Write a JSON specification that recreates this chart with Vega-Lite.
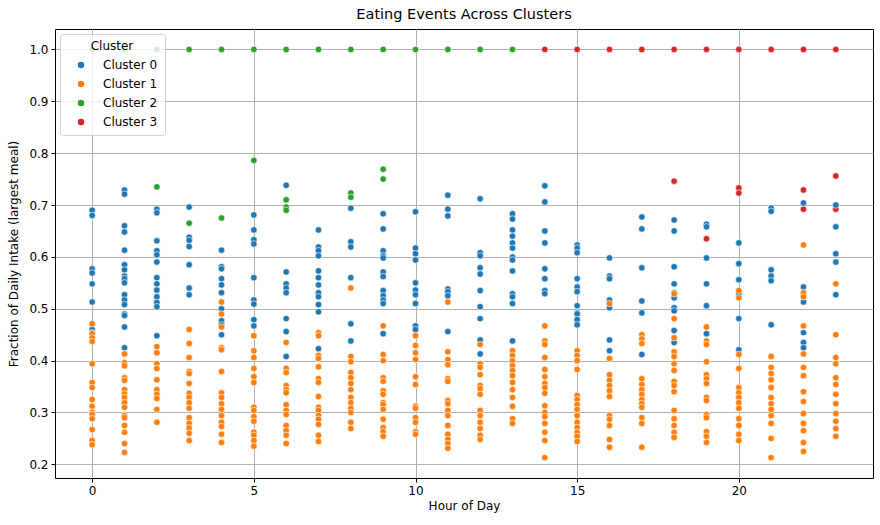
{
  "$schema": "https://vega.github.io/schema/vega-lite/v6.json",
  "width": 818,
  "height": 449,
  "autosize": {"type": "none"},
  "padding": {"left": 55, "top": 29, "right": 7, "bottom": 47},
  "title": {"text": "Eating Events Across Clusters", "fontSize": 14.5, "fontWeight": "normal", "color": "black", "offset": 7},
  "data": {
    "values": [
      {"hour": 0, "frac": 1.0, "cluster": "Cluster 2"},
      {"hour": 0, "frac": 0.69, "cluster": "Cluster 0"}, {"hour": 0, "frac": 0.68, "cluster": "Cluster 0"}, {"hour": 0, "frac": 0.577, "cluster": "Cluster 0"}, {"hour": 0, "frac": 0.569, "cluster": "Cluster 0"}, {"hour": 0, "frac": 0.548, "cluster": "Cluster 0"}, {"hour": 0, "frac": 0.513, "cluster": "Cluster 0"}, {"hour": 0, "frac": 0.46, "cluster": "Cluster 0"}, {"hour": 0, "frac": 0.454, "cluster": "Cluster 0"},
      {"hour": 0, "frac": 0.471, "cluster": "Cluster 1"}, {"hour": 0, "frac": 0.452, "cluster": "Cluster 1"}, {"hour": 0, "frac": 0.444, "cluster": "Cluster 1"}, {"hour": 0, "frac": 0.437, "cluster": "Cluster 1"}, {"hour": 0, "frac": 0.394, "cluster": "Cluster 1"}, {"hour": 0, "frac": 0.358, "cluster": "Cluster 1"}, {"hour": 0, "frac": 0.348, "cluster": "Cluster 1"}, {"hour": 0, "frac": 0.325, "cluster": "Cluster 1"}, {"hour": 0, "frac": 0.312, "cluster": "Cluster 1"}, {"hour": 0, "frac": 0.3, "cluster": "Cluster 1"}, {"hour": 0, "frac": 0.296, "cluster": "Cluster 1"}, {"hour": 0, "frac": 0.288, "cluster": "Cluster 1"}, {"hour": 0, "frac": 0.267, "cluster": "Cluster 1"}, {"hour": 0, "frac": 0.246, "cluster": "Cluster 1"}, {"hour": 0, "frac": 0.238, "cluster": "Cluster 1"},

      {"hour": 1, "frac": 1.0, "cluster": "Cluster 2"},
      {"hour": 1, "frac": 0.729, "cluster": "Cluster 0"}, {"hour": 1, "frac": 0.721, "cluster": "Cluster 0"}, {"hour": 1, "frac": 0.66, "cluster": "Cluster 0"}, {"hour": 1, "frac": 0.648, "cluster": "Cluster 0"}, {"hour": 1, "frac": 0.613, "cluster": "Cluster 0"}, {"hour": 1, "frac": 0.585, "cluster": "Cluster 0"}, {"hour": 1, "frac": 0.575, "cluster": "Cluster 0"}, {"hour": 1, "frac": 0.563, "cluster": "Cluster 0"}, {"hour": 1, "frac": 0.558, "cluster": "Cluster 0"}, {"hour": 1, "frac": 0.55, "cluster": "Cluster 0"}, {"hour": 1, "frac": 0.527, "cluster": "Cluster 0"}, {"hour": 1, "frac": 0.517, "cluster": "Cluster 0"}, {"hour": 1, "frac": 0.508, "cluster": "Cluster 0"}, {"hour": 1, "frac": 0.49, "cluster": "Cluster 0"}, {"hour": 1, "frac": 0.487, "cluster": "Cluster 0"}, {"hour": 1, "frac": 0.465, "cluster": "Cluster 0"}, {"hour": 1, "frac": 0.425, "cluster": "Cluster 0"},
      {"hour": 1, "frac": 0.413, "cluster": "Cluster 1"}, {"hour": 1, "frac": 0.396, "cluster": "Cluster 1"}, {"hour": 1, "frac": 0.39, "cluster": "Cluster 1"}, {"hour": 1, "frac": 0.367, "cluster": "Cluster 1"}, {"hour": 1, "frac": 0.362, "cluster": "Cluster 1"}, {"hour": 1, "frac": 0.344, "cluster": "Cluster 1"}, {"hour": 1, "frac": 0.336, "cluster": "Cluster 1"}, {"hour": 1, "frac": 0.329, "cluster": "Cluster 1"}, {"hour": 1, "frac": 0.319, "cluster": "Cluster 1"}, {"hour": 1, "frac": 0.31, "cluster": "Cluster 1"}, {"hour": 1, "frac": 0.294, "cluster": "Cluster 1"}, {"hour": 1, "frac": 0.29, "cluster": "Cluster 1"}, {"hour": 1, "frac": 0.275, "cluster": "Cluster 1"}, {"hour": 1, "frac": 0.262, "cluster": "Cluster 1"}, {"hour": 1, "frac": 0.24, "cluster": "Cluster 1"}, {"hour": 1, "frac": 0.223, "cluster": "Cluster 1"},

      {"hour": 2, "frac": 1.0, "cluster": "Cluster 2"}, {"hour": 2, "frac": 0.735, "cluster": "Cluster 2"},
      {"hour": 2, "frac": 0.692, "cluster": "Cluster 0"}, {"hour": 2, "frac": 0.685, "cluster": "Cluster 0"}, {"hour": 2, "frac": 0.631, "cluster": "Cluster 0"}, {"hour": 2, "frac": 0.612, "cluster": "Cluster 0"}, {"hour": 2, "frac": 0.604, "cluster": "Cluster 0"}, {"hour": 2, "frac": 0.59, "cluster": "Cluster 0"}, {"hour": 2, "frac": 0.56, "cluster": "Cluster 0"}, {"hour": 2, "frac": 0.548, "cluster": "Cluster 0"}, {"hour": 2, "frac": 0.536, "cluster": "Cluster 0"}, {"hour": 2, "frac": 0.523, "cluster": "Cluster 0"}, {"hour": 2, "frac": 0.512, "cluster": "Cluster 0"}, {"hour": 2, "frac": 0.504, "cluster": "Cluster 0"}, {"hour": 2, "frac": 0.448, "cluster": "Cluster 0"},
      {"hour": 2, "frac": 0.427, "cluster": "Cluster 1"}, {"hour": 2, "frac": 0.415, "cluster": "Cluster 1"}, {"hour": 2, "frac": 0.394, "cluster": "Cluster 1"}, {"hour": 2, "frac": 0.385, "cluster": "Cluster 1"}, {"hour": 2, "frac": 0.363, "cluster": "Cluster 1"}, {"hour": 2, "frac": 0.344, "cluster": "Cluster 1"}, {"hour": 2, "frac": 0.335, "cluster": "Cluster 1"}, {"hour": 2, "frac": 0.327, "cluster": "Cluster 1"}, {"hour": 2, "frac": 0.306, "cluster": "Cluster 1"}, {"hour": 2, "frac": 0.281, "cluster": "Cluster 1"},

      {"hour": 3, "frac": 1.0, "cluster": "Cluster 2"}, {"hour": 3, "frac": 0.665, "cluster": "Cluster 2"},
      {"hour": 3, "frac": 0.696, "cluster": "Cluster 0"}, {"hour": 3, "frac": 0.638, "cluster": "Cluster 0"}, {"hour": 3, "frac": 0.632, "cluster": "Cluster 0"}, {"hour": 3, "frac": 0.62, "cluster": "Cluster 0"}, {"hour": 3, "frac": 0.585, "cluster": "Cluster 0"}, {"hour": 3, "frac": 0.54, "cluster": "Cluster 0"}, {"hour": 3, "frac": 0.527, "cluster": "Cluster 0"},
      {"hour": 3, "frac": 0.46, "cluster": "Cluster 1"}, {"hour": 3, "frac": 0.433, "cluster": "Cluster 1"}, {"hour": 3, "frac": 0.406, "cluster": "Cluster 1"}, {"hour": 3, "frac": 0.379, "cluster": "Cluster 1"}, {"hour": 3, "frac": 0.375, "cluster": "Cluster 1"}, {"hour": 3, "frac": 0.356, "cluster": "Cluster 1"}, {"hour": 3, "frac": 0.337, "cluster": "Cluster 1"}, {"hour": 3, "frac": 0.329, "cluster": "Cluster 1"}, {"hour": 3, "frac": 0.319, "cluster": "Cluster 1"}, {"hour": 3, "frac": 0.308, "cluster": "Cluster 1"}, {"hour": 3, "frac": 0.29, "cluster": "Cluster 1"}, {"hour": 3, "frac": 0.279, "cluster": "Cluster 1"}, {"hour": 3, "frac": 0.27, "cluster": "Cluster 1"}, {"hour": 3, "frac": 0.26, "cluster": "Cluster 1"}, {"hour": 3, "frac": 0.246, "cluster": "Cluster 1"},

      {"hour": 4, "frac": 1.0, "cluster": "Cluster 2"}, {"hour": 4, "frac": 0.675, "cluster": "Cluster 2"},
      {"hour": 4, "frac": 0.613, "cluster": "Cluster 0"}, {"hour": 4, "frac": 0.581, "cluster": "Cluster 0"}, {"hour": 4, "frac": 0.577, "cluster": "Cluster 0"}, {"hour": 4, "frac": 0.558, "cluster": "Cluster 0"}, {"hour": 4, "frac": 0.546, "cluster": "Cluster 0"}, {"hour": 4, "frac": 0.531, "cluster": "Cluster 0"}, {"hour": 4, "frac": 0.5, "cluster": "Cluster 0"}, {"hour": 4, "frac": 0.477, "cluster": "Cluster 0"}, {"hour": 4, "frac": 0.469, "cluster": "Cluster 0"}, {"hour": 4, "frac": 0.45, "cluster": "Cluster 0"},
      {"hour": 4, "frac": 0.513, "cluster": "Cluster 1"}, {"hour": 4, "frac": 0.49, "cluster": "Cluster 1"}, {"hour": 4, "frac": 0.465, "cluster": "Cluster 1"}, {"hour": 4, "frac": 0.425, "cluster": "Cluster 1"}, {"hour": 4, "frac": 0.421, "cluster": "Cluster 1"}, {"hour": 4, "frac": 0.379, "cluster": "Cluster 1"}, {"hour": 4, "frac": 0.338, "cluster": "Cluster 1"}, {"hour": 4, "frac": 0.329, "cluster": "Cluster 1"}, {"hour": 4, "frac": 0.317, "cluster": "Cluster 1"}, {"hour": 4, "frac": 0.306, "cluster": "Cluster 1"}, {"hour": 4, "frac": 0.294, "cluster": "Cluster 1"}, {"hour": 4, "frac": 0.281, "cluster": "Cluster 1"}, {"hour": 4, "frac": 0.273, "cluster": "Cluster 1"}, {"hour": 4, "frac": 0.258, "cluster": "Cluster 1"}, {"hour": 4, "frac": 0.242, "cluster": "Cluster 1"},

      {"hour": 5, "frac": 1.0, "cluster": "Cluster 2"}, {"hour": 5, "frac": 0.786, "cluster": "Cluster 2"},
      {"hour": 5, "frac": 0.681, "cluster": "Cluster 0"}, {"hour": 5, "frac": 0.652, "cluster": "Cluster 0"}, {"hour": 5, "frac": 0.633, "cluster": "Cluster 0"}, {"hour": 5, "frac": 0.625, "cluster": "Cluster 0"}, {"hour": 5, "frac": 0.56, "cluster": "Cluster 0"}, {"hour": 5, "frac": 0.517, "cluster": "Cluster 0"}, {"hour": 5, "frac": 0.509, "cluster": "Cluster 0"}, {"hour": 5, "frac": 0.479, "cluster": "Cluster 0"}, {"hour": 5, "frac": 0.467, "cluster": "Cluster 0"},
      {"hour": 5, "frac": 0.448, "cluster": "Cluster 1"}, {"hour": 5, "frac": 0.419, "cluster": "Cluster 1"}, {"hour": 5, "frac": 0.406, "cluster": "Cluster 1"}, {"hour": 5, "frac": 0.385, "cluster": "Cluster 1"}, {"hour": 5, "frac": 0.369, "cluster": "Cluster 1"}, {"hour": 5, "frac": 0.358, "cluster": "Cluster 1"}, {"hour": 5, "frac": 0.31, "cluster": "Cluster 1"}, {"hour": 5, "frac": 0.304, "cluster": "Cluster 1"}, {"hour": 5, "frac": 0.292, "cluster": "Cluster 1"}, {"hour": 5, "frac": 0.283, "cluster": "Cluster 1"}, {"hour": 5, "frac": 0.262, "cluster": "Cluster 1"}, {"hour": 5, "frac": 0.256, "cluster": "Cluster 1"}, {"hour": 5, "frac": 0.246, "cluster": "Cluster 1"}, {"hour": 5, "frac": 0.235, "cluster": "Cluster 1"},

      {"hour": 6, "frac": 1.0, "cluster": "Cluster 2"}, {"hour": 6, "frac": 0.71, "cluster": "Cluster 2"}, {"hour": 6, "frac": 0.696, "cluster": "Cluster 2"}, {"hour": 6, "frac": 0.69, "cluster": "Cluster 2"},
      {"hour": 6, "frac": 0.738, "cluster": "Cluster 0"}, {"hour": 6, "frac": 0.571, "cluster": "Cluster 0"}, {"hour": 6, "frac": 0.548, "cluster": "Cluster 0"}, {"hour": 6, "frac": 0.54, "cluster": "Cluster 0"}, {"hour": 6, "frac": 0.531, "cluster": "Cluster 0"}, {"hour": 6, "frac": 0.481, "cluster": "Cluster 0"}, {"hour": 6, "frac": 0.456, "cluster": "Cluster 0"}, {"hour": 6, "frac": 0.408, "cluster": "Cluster 0"},
      {"hour": 6, "frac": 0.435, "cluster": "Cluster 1"}, {"hour": 6, "frac": 0.385, "cluster": "Cluster 1"}, {"hour": 6, "frac": 0.377, "cluster": "Cluster 1"}, {"hour": 6, "frac": 0.352, "cluster": "Cluster 1"}, {"hour": 6, "frac": 0.344, "cluster": "Cluster 1"}, {"hour": 6, "frac": 0.338, "cluster": "Cluster 1"}, {"hour": 6, "frac": 0.315, "cluster": "Cluster 1"}, {"hour": 6, "frac": 0.304, "cluster": "Cluster 1"}, {"hour": 6, "frac": 0.296, "cluster": "Cluster 1"}, {"hour": 6, "frac": 0.275, "cluster": "Cluster 1"}, {"hour": 6, "frac": 0.265, "cluster": "Cluster 1"}, {"hour": 6, "frac": 0.256, "cluster": "Cluster 1"}, {"hour": 6, "frac": 0.24, "cluster": "Cluster 1"},

      {"hour": 7, "frac": 1.0, "cluster": "Cluster 2"},
      {"hour": 7, "frac": 0.652, "cluster": "Cluster 0"}, {"hour": 7, "frac": 0.619, "cluster": "Cluster 0"}, {"hour": 7, "frac": 0.612, "cluster": "Cluster 0"}, {"hour": 7, "frac": 0.602, "cluster": "Cluster 0"}, {"hour": 7, "frac": 0.573, "cluster": "Cluster 0"}, {"hour": 7, "frac": 0.56, "cluster": "Cluster 0"}, {"hour": 7, "frac": 0.546, "cluster": "Cluster 0"}, {"hour": 7, "frac": 0.531, "cluster": "Cluster 0"}, {"hour": 7, "frac": 0.523, "cluster": "Cluster 0"}, {"hour": 7, "frac": 0.508, "cluster": "Cluster 0"}, {"hour": 7, "frac": 0.494, "cluster": "Cluster 0"}, {"hour": 7, "frac": 0.423, "cluster": "Cluster 0"},
      {"hour": 7, "frac": 0.454, "cluster": "Cluster 1"}, {"hour": 7, "frac": 0.448, "cluster": "Cluster 1"}, {"hour": 7, "frac": 0.41, "cluster": "Cluster 1"}, {"hour": 7, "frac": 0.404, "cluster": "Cluster 1"}, {"hour": 7, "frac": 0.388, "cluster": "Cluster 1"}, {"hour": 7, "frac": 0.365, "cluster": "Cluster 1"}, {"hour": 7, "frac": 0.358, "cluster": "Cluster 1"}, {"hour": 7, "frac": 0.331, "cluster": "Cluster 1"}, {"hour": 7, "frac": 0.31, "cluster": "Cluster 1"}, {"hour": 7, "frac": 0.304, "cluster": "Cluster 1"}, {"hour": 7, "frac": 0.294, "cluster": "Cluster 1"}, {"hour": 7, "frac": 0.287, "cluster": "Cluster 1"}, {"hour": 7, "frac": 0.277, "cluster": "Cluster 1"}, {"hour": 7, "frac": 0.256, "cluster": "Cluster 1"}, {"hour": 7, "frac": 0.244, "cluster": "Cluster 1"},

      {"hour": 8, "frac": 1.0, "cluster": "Cluster 2"}, {"hour": 8, "frac": 0.723, "cluster": "Cluster 2"}, {"hour": 8, "frac": 0.715, "cluster": "Cluster 2"},
      {"hour": 8, "frac": 0.694, "cluster": "Cluster 0"}, {"hour": 8, "frac": 0.629, "cluster": "Cluster 0"}, {"hour": 8, "frac": 0.619, "cluster": "Cluster 0"}, {"hour": 8, "frac": 0.56, "cluster": "Cluster 0"}, {"hour": 8, "frac": 0.471, "cluster": "Cluster 0"}, {"hour": 8, "frac": 0.438, "cluster": "Cluster 0"},
      {"hour": 8, "frac": 0.54, "cluster": "Cluster 1"}, {"hour": 8, "frac": 0.408, "cluster": "Cluster 1"}, {"hour": 8, "frac": 0.398, "cluster": "Cluster 1"}, {"hour": 8, "frac": 0.377, "cluster": "Cluster 1"}, {"hour": 8, "frac": 0.367, "cluster": "Cluster 1"}, {"hour": 8, "frac": 0.356, "cluster": "Cluster 1"}, {"hour": 8, "frac": 0.344, "cluster": "Cluster 1"}, {"hour": 8, "frac": 0.329, "cluster": "Cluster 1"}, {"hour": 8, "frac": 0.319, "cluster": "Cluster 1"}, {"hour": 8, "frac": 0.308, "cluster": "Cluster 1"}, {"hour": 8, "frac": 0.3, "cluster": "Cluster 1"}, {"hour": 8, "frac": 0.281, "cluster": "Cluster 1"}, {"hour": 8, "frac": 0.269, "cluster": "Cluster 1"},

      {"hour": 9, "frac": 1.0, "cluster": "Cluster 2"}, {"hour": 9, "frac": 0.769, "cluster": "Cluster 2"}, {"hour": 9, "frac": 0.75, "cluster": "Cluster 2"},
      {"hour": 9, "frac": 0.683, "cluster": "Cluster 0"}, {"hour": 9, "frac": 0.654, "cluster": "Cluster 0"}, {"hour": 9, "frac": 0.612, "cluster": "Cluster 0"}, {"hour": 9, "frac": 0.602, "cluster": "Cluster 0"}, {"hour": 9, "frac": 0.598, "cluster": "Cluster 0"}, {"hour": 9, "frac": 0.571, "cluster": "Cluster 0"}, {"hour": 9, "frac": 0.562, "cluster": "Cluster 0"}, {"hour": 9, "frac": 0.535, "cluster": "Cluster 0"}, {"hour": 9, "frac": 0.525, "cluster": "Cluster 0"}, {"hour": 9, "frac": 0.517, "cluster": "Cluster 0"}, {"hour": 9, "frac": 0.51, "cluster": "Cluster 0"}, {"hour": 9, "frac": 0.452, "cluster": "Cluster 0"},
      {"hour": 9, "frac": 0.467, "cluster": "Cluster 1"}, {"hour": 9, "frac": 0.412, "cluster": "Cluster 1"}, {"hour": 9, "frac": 0.4, "cluster": "Cluster 1"}, {"hour": 9, "frac": 0.367, "cluster": "Cluster 1"}, {"hour": 9, "frac": 0.36, "cluster": "Cluster 1"}, {"hour": 9, "frac": 0.342, "cluster": "Cluster 1"}, {"hour": 9, "frac": 0.335, "cluster": "Cluster 1"}, {"hour": 9, "frac": 0.319, "cluster": "Cluster 1"}, {"hour": 9, "frac": 0.315, "cluster": "Cluster 1"}, {"hour": 9, "frac": 0.306, "cluster": "Cluster 1"}, {"hour": 9, "frac": 0.287, "cluster": "Cluster 1"}, {"hour": 9, "frac": 0.271, "cluster": "Cluster 1"}, {"hour": 9, "frac": 0.263, "cluster": "Cluster 1"}, {"hour": 9, "frac": 0.254, "cluster": "Cluster 1"},

      {"hour": 10, "frac": 1.0, "cluster": "Cluster 2"},
      {"hour": 10, "frac": 0.687, "cluster": "Cluster 0"}, {"hour": 10, "frac": 0.617, "cluster": "Cluster 0"}, {"hour": 10, "frac": 0.606, "cluster": "Cluster 0"}, {"hour": 10, "frac": 0.594, "cluster": "Cluster 0"}, {"hour": 10, "frac": 0.55, "cluster": "Cluster 0"}, {"hour": 10, "frac": 0.536, "cluster": "Cluster 0"}, {"hour": 10, "frac": 0.527, "cluster": "Cluster 0"}, {"hour": 10, "frac": 0.51, "cluster": "Cluster 0"}, {"hour": 10, "frac": 0.467, "cluster": "Cluster 0"}, {"hour": 10, "frac": 0.46, "cluster": "Cluster 0"},
      {"hour": 10, "frac": 0.448, "cluster": "Cluster 1"}, {"hour": 10, "frac": 0.429, "cluster": "Cluster 1"}, {"hour": 10, "frac": 0.415, "cluster": "Cluster 1"}, {"hour": 10, "frac": 0.402, "cluster": "Cluster 1"}, {"hour": 10, "frac": 0.369, "cluster": "Cluster 1"}, {"hour": 10, "frac": 0.354, "cluster": "Cluster 1"}, {"hour": 10, "frac": 0.312, "cluster": "Cluster 1"}, {"hour": 10, "frac": 0.308, "cluster": "Cluster 1"}, {"hour": 10, "frac": 0.29, "cluster": "Cluster 1"}, {"hour": 10, "frac": 0.281, "cluster": "Cluster 1"}, {"hour": 10, "frac": 0.263, "cluster": "Cluster 1"}, {"hour": 10, "frac": 0.258, "cluster": "Cluster 1"},

      {"hour": 11, "frac": 1.0, "cluster": "Cluster 2"},
      {"hour": 11, "frac": 0.719, "cluster": "Cluster 0"}, {"hour": 11, "frac": 0.692, "cluster": "Cluster 0"}, {"hour": 11, "frac": 0.679, "cluster": "Cluster 0"}, {"hour": 11, "frac": 0.538, "cluster": "Cluster 0"}, {"hour": 11, "frac": 0.533, "cluster": "Cluster 0"}, {"hour": 11, "frac": 0.525, "cluster": "Cluster 0"}, {"hour": 11, "frac": 0.456, "cluster": "Cluster 0"},
      {"hour": 11, "frac": 0.513, "cluster": "Cluster 1"}, {"hour": 11, "frac": 0.417, "cluster": "Cluster 1"}, {"hour": 11, "frac": 0.402, "cluster": "Cluster 1"}, {"hour": 11, "frac": 0.392, "cluster": "Cluster 1"}, {"hour": 11, "frac": 0.365, "cluster": "Cluster 1"}, {"hour": 11, "frac": 0.36, "cluster": "Cluster 1"}, {"hour": 11, "frac": 0.323, "cluster": "Cluster 1"}, {"hour": 11, "frac": 0.317, "cluster": "Cluster 1"}, {"hour": 11, "frac": 0.304, "cluster": "Cluster 1"}, {"hour": 11, "frac": 0.294, "cluster": "Cluster 1"}, {"hour": 11, "frac": 0.275, "cluster": "Cluster 1"}, {"hour": 11, "frac": 0.258, "cluster": "Cluster 1"}, {"hour": 11, "frac": 0.248, "cluster": "Cluster 1"}, {"hour": 11, "frac": 0.24, "cluster": "Cluster 1"}, {"hour": 11, "frac": 0.231, "cluster": "Cluster 1"},

      {"hour": 12, "frac": 1.0, "cluster": "Cluster 2"},
      {"hour": 12, "frac": 0.712, "cluster": "Cluster 0"}, {"hour": 12, "frac": 0.608, "cluster": "Cluster 0"}, {"hour": 12, "frac": 0.602, "cluster": "Cluster 0"}, {"hour": 12, "frac": 0.579, "cluster": "Cluster 0"}, {"hour": 12, "frac": 0.567, "cluster": "Cluster 0"}, {"hour": 12, "frac": 0.535, "cluster": "Cluster 0"}, {"hour": 12, "frac": 0.504, "cluster": "Cluster 0"}, {"hour": 12, "frac": 0.481, "cluster": "Cluster 0"}, {"hour": 12, "frac": 0.44, "cluster": "Cluster 0"}, {"hour": 12, "frac": 0.413, "cluster": "Cluster 0"},
      {"hour": 12, "frac": 0.431, "cluster": "Cluster 1"}, {"hour": 12, "frac": 0.394, "cluster": "Cluster 1"}, {"hour": 12, "frac": 0.387, "cluster": "Cluster 1"}, {"hour": 12, "frac": 0.373, "cluster": "Cluster 1"}, {"hour": 12, "frac": 0.352, "cluster": "Cluster 1"}, {"hour": 12, "frac": 0.346, "cluster": "Cluster 1"}, {"hour": 12, "frac": 0.335, "cluster": "Cluster 1"}, {"hour": 12, "frac": 0.304, "cluster": "Cluster 1"}, {"hour": 12, "frac": 0.294, "cluster": "Cluster 1"}, {"hour": 12, "frac": 0.281, "cluster": "Cluster 1"}, {"hour": 12, "frac": 0.269, "cluster": "Cluster 1"}, {"hour": 12, "frac": 0.256, "cluster": "Cluster 1"}, {"hour": 12, "frac": 0.248, "cluster": "Cluster 1"},

      {"hour": 13, "frac": 1.0, "cluster": "Cluster 2"},
      {"hour": 13, "frac": 0.683, "cluster": "Cluster 0"}, {"hour": 13, "frac": 0.673, "cluster": "Cluster 0"}, {"hour": 13, "frac": 0.652, "cluster": "Cluster 0"}, {"hour": 13, "frac": 0.64, "cluster": "Cluster 0"}, {"hour": 13, "frac": 0.627, "cluster": "Cluster 0"}, {"hour": 13, "frac": 0.617, "cluster": "Cluster 0"}, {"hour": 13, "frac": 0.6, "cluster": "Cluster 0"}, {"hour": 13, "frac": 0.594, "cluster": "Cluster 0"}, {"hour": 13, "frac": 0.573, "cluster": "Cluster 0"}, {"hour": 13, "frac": 0.529, "cluster": "Cluster 0"}, {"hour": 13, "frac": 0.523, "cluster": "Cluster 0"}, {"hour": 13, "frac": 0.51, "cluster": "Cluster 0"}, {"hour": 13, "frac": 0.438, "cluster": "Cluster 0"},
      {"hour": 13, "frac": 0.419, "cluster": "Cluster 1"}, {"hour": 13, "frac": 0.41, "cluster": "Cluster 1"}, {"hour": 13, "frac": 0.4, "cluster": "Cluster 1"}, {"hour": 13, "frac": 0.39, "cluster": "Cluster 1"}, {"hour": 13, "frac": 0.381, "cluster": "Cluster 1"}, {"hour": 13, "frac": 0.371, "cluster": "Cluster 1"}, {"hour": 13, "frac": 0.358, "cluster": "Cluster 1"}, {"hour": 13, "frac": 0.344, "cluster": "Cluster 1"}, {"hour": 13, "frac": 0.329, "cluster": "Cluster 1"}, {"hour": 13, "frac": 0.312, "cluster": "Cluster 1"}, {"hour": 13, "frac": 0.288, "cluster": "Cluster 1"}, {"hour": 13, "frac": 0.279, "cluster": "Cluster 1"},

      {"hour": 14, "frac": 1.0, "cluster": "Cluster 3"},
      {"hour": 14, "frac": 0.737, "cluster": "Cluster 0"}, {"hour": 14, "frac": 0.706, "cluster": "Cluster 0"}, {"hour": 14, "frac": 0.65, "cluster": "Cluster 0"}, {"hour": 14, "frac": 0.627, "cluster": "Cluster 0"}, {"hour": 14, "frac": 0.577, "cluster": "Cluster 0"}, {"hour": 14, "frac": 0.558, "cluster": "Cluster 0"}, {"hour": 14, "frac": 0.535, "cluster": "Cluster 0"}, {"hour": 14, "frac": 0.529, "cluster": "Cluster 0"},
      {"hour": 14, "frac": 0.467, "cluster": "Cluster 1"}, {"hour": 14, "frac": 0.438, "cluster": "Cluster 1"}, {"hour": 14, "frac": 0.431, "cluster": "Cluster 1"}, {"hour": 14, "frac": 0.406, "cluster": "Cluster 1"}, {"hour": 14, "frac": 0.383, "cluster": "Cluster 1"}, {"hour": 14, "frac": 0.369, "cluster": "Cluster 1"}, {"hour": 14, "frac": 0.356, "cluster": "Cluster 1"}, {"hour": 14, "frac": 0.348, "cluster": "Cluster 1"}, {"hour": 14, "frac": 0.337, "cluster": "Cluster 1"}, {"hour": 14, "frac": 0.313, "cluster": "Cluster 1"}, {"hour": 14, "frac": 0.3, "cluster": "Cluster 1"}, {"hour": 14, "frac": 0.292, "cluster": "Cluster 1"}, {"hour": 14, "frac": 0.279, "cluster": "Cluster 1"}, {"hour": 14, "frac": 0.262, "cluster": "Cluster 1"}, {"hour": 14, "frac": 0.246, "cluster": "Cluster 1"}, {"hour": 14, "frac": 0.213, "cluster": "Cluster 1"},

      {"hour": 15, "frac": 1.0, "cluster": "Cluster 3"},
      {"hour": 15, "frac": 0.623, "cluster": "Cluster 0"}, {"hour": 15, "frac": 0.617, "cluster": "Cluster 0"}, {"hour": 15, "frac": 0.608, "cluster": "Cluster 0"}, {"hour": 15, "frac": 0.558, "cluster": "Cluster 0"}, {"hour": 15, "frac": 0.542, "cluster": "Cluster 0"}, {"hour": 15, "frac": 0.533, "cluster": "Cluster 0"}, {"hour": 15, "frac": 0.506, "cluster": "Cluster 0"}, {"hour": 15, "frac": 0.492, "cluster": "Cluster 0"}, {"hour": 15, "frac": 0.49, "cluster": "Cluster 0"}, {"hour": 15, "frac": 0.479, "cluster": "Cluster 0"}, {"hour": 15, "frac": 0.469, "cluster": "Cluster 0"},
      {"hour": 15, "frac": 0.419, "cluster": "Cluster 1"}, {"hour": 15, "frac": 0.41, "cluster": "Cluster 1"}, {"hour": 15, "frac": 0.4, "cluster": "Cluster 1"}, {"hour": 15, "frac": 0.383, "cluster": "Cluster 1"}, {"hour": 15, "frac": 0.333, "cluster": "Cluster 1"}, {"hour": 15, "frac": 0.325, "cluster": "Cluster 1"}, {"hour": 15, "frac": 0.315, "cluster": "Cluster 1"}, {"hour": 15, "frac": 0.306, "cluster": "Cluster 1"}, {"hour": 15, "frac": 0.294, "cluster": "Cluster 1"}, {"hour": 15, "frac": 0.281, "cluster": "Cluster 1"}, {"hour": 15, "frac": 0.271, "cluster": "Cluster 1"}, {"hour": 15, "frac": 0.262, "cluster": "Cluster 1"}, {"hour": 15, "frac": 0.254, "cluster": "Cluster 1"}, {"hour": 15, "frac": 0.244, "cluster": "Cluster 1"},

      {"hour": 16, "frac": 1.0, "cluster": "Cluster 3"},
      {"hour": 16, "frac": 0.598, "cluster": "Cluster 0"}, {"hour": 16, "frac": 0.563, "cluster": "Cluster 0"}, {"hour": 16, "frac": 0.558, "cluster": "Cluster 0"}, {"hour": 16, "frac": 0.517, "cluster": "Cluster 0"}, {"hour": 16, "frac": 0.502, "cluster": "Cluster 0"}, {"hour": 16, "frac": 0.44, "cluster": "Cluster 0"}, {"hour": 16, "frac": 0.419, "cluster": "Cluster 0"},
      {"hour": 16, "frac": 0.51, "cluster": "Cluster 1"}, {"hour": 16, "frac": 0.404, "cluster": "Cluster 1"}, {"hour": 16, "frac": 0.373, "cluster": "Cluster 1"}, {"hour": 16, "frac": 0.362, "cluster": "Cluster 1"}, {"hour": 16, "frac": 0.352, "cluster": "Cluster 1"}, {"hour": 16, "frac": 0.342, "cluster": "Cluster 1"}, {"hour": 16, "frac": 0.331, "cluster": "Cluster 1"}, {"hour": 16, "frac": 0.294, "cluster": "Cluster 1"}, {"hour": 16, "frac": 0.287, "cluster": "Cluster 1"}, {"hour": 16, "frac": 0.275, "cluster": "Cluster 1"}, {"hour": 16, "frac": 0.248, "cluster": "Cluster 1"}, {"hour": 16, "frac": 0.233, "cluster": "Cluster 1"},

      {"hour": 17, "frac": 1.0, "cluster": "Cluster 3"},
      {"hour": 17, "frac": 0.677, "cluster": "Cluster 0"}, {"hour": 17, "frac": 0.654, "cluster": "Cluster 0"}, {"hour": 17, "frac": 0.579, "cluster": "Cluster 0"}, {"hour": 17, "frac": 0.515, "cluster": "Cluster 0"}, {"hour": 17, "frac": 0.492, "cluster": "Cluster 0"}, {"hour": 17, "frac": 0.412, "cluster": "Cluster 0"},
      {"hour": 17, "frac": 0.45, "cluster": "Cluster 1"}, {"hour": 17, "frac": 0.442, "cluster": "Cluster 1"}, {"hour": 17, "frac": 0.433, "cluster": "Cluster 1"}, {"hour": 17, "frac": 0.365, "cluster": "Cluster 1"}, {"hour": 17, "frac": 0.354, "cluster": "Cluster 1"}, {"hour": 17, "frac": 0.344, "cluster": "Cluster 1"}, {"hour": 17, "frac": 0.335, "cluster": "Cluster 1"}, {"hour": 17, "frac": 0.325, "cluster": "Cluster 1"}, {"hour": 17, "frac": 0.317, "cluster": "Cluster 1"}, {"hour": 17, "frac": 0.31, "cluster": "Cluster 1"}, {"hour": 17, "frac": 0.29, "cluster": "Cluster 1"}, {"hour": 17, "frac": 0.279, "cluster": "Cluster 1"}, {"hour": 17, "frac": 0.233, "cluster": "Cluster 1"},

      {"hour": 18, "frac": 1.0, "cluster": "Cluster 3"}, {"hour": 18, "frac": 0.746, "cluster": "Cluster 3"},
      {"hour": 18, "frac": 0.671, "cluster": "Cluster 0"}, {"hour": 18, "frac": 0.65, "cluster": "Cluster 0"}, {"hour": 18, "frac": 0.581, "cluster": "Cluster 0"}, {"hour": 18, "frac": 0.548, "cluster": "Cluster 0"}, {"hour": 18, "frac": 0.531, "cluster": "Cluster 0"}, {"hour": 18, "frac": 0.521, "cluster": "Cluster 0"}, {"hour": 18, "frac": 0.502, "cluster": "Cluster 0"}, {"hour": 18, "frac": 0.496, "cluster": "Cluster 0"}, {"hour": 18, "frac": 0.458, "cluster": "Cluster 0"}, {"hour": 18, "frac": 0.435, "cluster": "Cluster 0"},
      {"hour": 18, "frac": 0.529, "cluster": "Cluster 1"}, {"hour": 18, "frac": 0.481, "cluster": "Cluster 1"}, {"hour": 18, "frac": 0.444, "cluster": "Cluster 1"}, {"hour": 18, "frac": 0.417, "cluster": "Cluster 1"}, {"hour": 18, "frac": 0.408, "cluster": "Cluster 1"}, {"hour": 18, "frac": 0.394, "cluster": "Cluster 1"}, {"hour": 18, "frac": 0.381, "cluster": "Cluster 1"}, {"hour": 18, "frac": 0.36, "cluster": "Cluster 1"}, {"hour": 18, "frac": 0.352, "cluster": "Cluster 1"}, {"hour": 18, "frac": 0.34, "cluster": "Cluster 1"}, {"hour": 18, "frac": 0.304, "cluster": "Cluster 1"}, {"hour": 18, "frac": 0.288, "cluster": "Cluster 1"}, {"hour": 18, "frac": 0.275, "cluster": "Cluster 1"}, {"hour": 18, "frac": 0.262, "cluster": "Cluster 1"}, {"hour": 18, "frac": 0.252, "cluster": "Cluster 1"},

      {"hour": 19, "frac": 1.0, "cluster": "Cluster 3"}, {"hour": 19, "frac": 0.635, "cluster": "Cluster 3"},
      {"hour": 19, "frac": 0.663, "cluster": "Cluster 0"}, {"hour": 19, "frac": 0.658, "cluster": "Cluster 0"}, {"hour": 19, "frac": 0.598, "cluster": "Cluster 0"}, {"hour": 19, "frac": 0.548, "cluster": "Cluster 0"}, {"hour": 19, "frac": 0.506, "cluster": "Cluster 0"}, {"hour": 19, "frac": 0.452, "cluster": "Cluster 0"},
      {"hour": 19, "frac": 0.465, "cluster": "Cluster 1"}, {"hour": 19, "frac": 0.438, "cluster": "Cluster 1"}, {"hour": 19, "frac": 0.431, "cluster": "Cluster 1"}, {"hour": 19, "frac": 0.398, "cluster": "Cluster 1"}, {"hour": 19, "frac": 0.373, "cluster": "Cluster 1"}, {"hour": 19, "frac": 0.365, "cluster": "Cluster 1"}, {"hour": 19, "frac": 0.356, "cluster": "Cluster 1"}, {"hour": 19, "frac": 0.329, "cluster": "Cluster 1"}, {"hour": 19, "frac": 0.323, "cluster": "Cluster 1"}, {"hour": 19, "frac": 0.296, "cluster": "Cluster 1"}, {"hour": 19, "frac": 0.29, "cluster": "Cluster 1"}, {"hour": 19, "frac": 0.263, "cluster": "Cluster 1"}, {"hour": 19, "frac": 0.254, "cluster": "Cluster 1"}, {"hour": 19, "frac": 0.242, "cluster": "Cluster 1"},

      {"hour": 20, "frac": 1.0, "cluster": "Cluster 3"}, {"hour": 20, "frac": 0.733, "cluster": "Cluster 3"}, {"hour": 20, "frac": 0.723, "cluster": "Cluster 3"},
      {"hour": 20, "frac": 0.627, "cluster": "Cluster 0"}, {"hour": 20, "frac": 0.587, "cluster": "Cluster 0"}, {"hour": 20, "frac": 0.556, "cluster": "Cluster 0"}, {"hour": 20, "frac": 0.529, "cluster": "Cluster 0"}, {"hour": 20, "frac": 0.481, "cluster": "Cluster 0"}, {"hour": 20, "frac": 0.421, "cluster": "Cluster 0"},
      {"hour": 20, "frac": 0.535, "cluster": "Cluster 1"}, {"hour": 20, "frac": 0.521, "cluster": "Cluster 1"}, {"hour": 20, "frac": 0.412, "cluster": "Cluster 1"}, {"hour": 20, "frac": 0.385, "cluster": "Cluster 1"}, {"hour": 20, "frac": 0.348, "cluster": "Cluster 1"}, {"hour": 20, "frac": 0.338, "cluster": "Cluster 1"}, {"hour": 20, "frac": 0.329, "cluster": "Cluster 1"}, {"hour": 20, "frac": 0.319, "cluster": "Cluster 1"}, {"hour": 20, "frac": 0.308, "cluster": "Cluster 1"}, {"hour": 20, "frac": 0.288, "cluster": "Cluster 1"}, {"hour": 20, "frac": 0.275, "cluster": "Cluster 1"}, {"hour": 20, "frac": 0.258, "cluster": "Cluster 1"}, {"hour": 20, "frac": 0.246, "cluster": "Cluster 1"},

      {"hour": 21, "frac": 1.0, "cluster": "Cluster 3"},
      {"hour": 21, "frac": 0.694, "cluster": "Cluster 0"}, {"hour": 21, "frac": 0.688, "cluster": "Cluster 0"}, {"hour": 21, "frac": 0.575, "cluster": "Cluster 0"}, {"hour": 21, "frac": 0.563, "cluster": "Cluster 0"}, {"hour": 21, "frac": 0.554, "cluster": "Cluster 0"}, {"hour": 21, "frac": 0.469, "cluster": "Cluster 0"},
      {"hour": 21, "frac": 0.408, "cluster": "Cluster 1"}, {"hour": 21, "frac": 0.387, "cluster": "Cluster 1"}, {"hour": 21, "frac": 0.375, "cluster": "Cluster 1"}, {"hour": 21, "frac": 0.363, "cluster": "Cluster 1"}, {"hour": 21, "frac": 0.348, "cluster": "Cluster 1"}, {"hour": 21, "frac": 0.329, "cluster": "Cluster 1"}, {"hour": 21, "frac": 0.317, "cluster": "Cluster 1"}, {"hour": 21, "frac": 0.306, "cluster": "Cluster 1"}, {"hour": 21, "frac": 0.294, "cluster": "Cluster 1"}, {"hour": 21, "frac": 0.279, "cluster": "Cluster 1"}, {"hour": 21, "frac": 0.25, "cluster": "Cluster 1"}, {"hour": 21, "frac": 0.213, "cluster": "Cluster 1"},

      {"hour": 22, "frac": 1.0, "cluster": "Cluster 3"}, {"hour": 22, "frac": 0.729, "cluster": "Cluster 3"}, {"hour": 22, "frac": 0.692, "cluster": "Cluster 3"},
      {"hour": 22, "frac": 0.704, "cluster": "Cluster 0"}, {"hour": 22, "frac": 0.542, "cluster": "Cluster 0"}, {"hour": 22, "frac": 0.513, "cluster": "Cluster 0"}, {"hour": 22, "frac": 0.454, "cluster": "Cluster 0"}, {"hour": 22, "frac": 0.435, "cluster": "Cluster 0"}, {"hour": 22, "frac": 0.425, "cluster": "Cluster 0"},
      {"hour": 22, "frac": 0.623, "cluster": "Cluster 1"}, {"hour": 22, "frac": 0.531, "cluster": "Cluster 1"}, {"hour": 22, "frac": 0.523, "cluster": "Cluster 1"}, {"hour": 22, "frac": 0.467, "cluster": "Cluster 1"}, {"hour": 22, "frac": 0.413, "cluster": "Cluster 1"}, {"hour": 22, "frac": 0.387, "cluster": "Cluster 1"}, {"hour": 22, "frac": 0.371, "cluster": "Cluster 1"}, {"hour": 22, "frac": 0.34, "cluster": "Cluster 1"}, {"hour": 22, "frac": 0.321, "cluster": "Cluster 1"}, {"hour": 22, "frac": 0.298, "cluster": "Cluster 1"}, {"hour": 22, "frac": 0.279, "cluster": "Cluster 1"}, {"hour": 22, "frac": 0.265, "cluster": "Cluster 1"}, {"hour": 22, "frac": 0.242, "cluster": "Cluster 1"}, {"hour": 22, "frac": 0.225, "cluster": "Cluster 1"},

      {"hour": 23, "frac": 1.0, "cluster": "Cluster 3"}, {"hour": 23, "frac": 0.756, "cluster": "Cluster 3"}, {"hour": 23, "frac": 0.692, "cluster": "Cluster 3"},
      {"hour": 23, "frac": 0.7, "cluster": "Cluster 0"}, {"hour": 23, "frac": 0.658, "cluster": "Cluster 0"}, {"hour": 23, "frac": 0.606, "cluster": "Cluster 0"}, {"hour": 23, "frac": 0.59, "cluster": "Cluster 0"}, {"hour": 23, "frac": 0.527, "cluster": "Cluster 0"},
      {"hour": 23, "frac": 0.548, "cluster": "Cluster 1"}, {"hour": 23, "frac": 0.45, "cluster": "Cluster 1"}, {"hour": 23, "frac": 0.406, "cluster": "Cluster 1"}, {"hour": 23, "frac": 0.394, "cluster": "Cluster 1"}, {"hour": 23, "frac": 0.367, "cluster": "Cluster 1"}, {"hour": 23, "frac": 0.354, "cluster": "Cluster 1"}, {"hour": 23, "frac": 0.335, "cluster": "Cluster 1"}, {"hour": 23, "frac": 0.317, "cluster": "Cluster 1"}, {"hour": 23, "frac": 0.298, "cluster": "Cluster 1"}, {"hour": 23, "frac": 0.283, "cluster": "Cluster 1"}, {"hour": 23, "frac": 0.269, "cluster": "Cluster 1"}, {"hour": 23, "frac": 0.254, "cluster": "Cluster 1"}
    ]
  },
  "mark": {"type": "circle", "size": 42, "opacity": 1, "stroke": "white", "strokeWidth": 0.6},
  "encoding": {
    "x": {
      "field": "hour",
      "type": "quantitative",
      "scale": {"domain": [-1.15, 24.15], "nice": false, "zero": false},
      "axis": {"values": [0, 5, 10, 15, 20], "title": "Hour of Day"}
    },
    "y": {
      "field": "frac",
      "type": "quantitative",
      "scale": {"domain": [0.1737, 1.0394], "nice": false, "zero": false},
      "axis": {"values": [0.2, 0.3, 0.4, 0.5, 0.6, 0.7, 0.8, 0.9, 1.0], "format": ".1f", "title": "Fraction of Daily Intake (largest meal)", "titlePadding": 8}
    },
    "color": {
      "field": "cluster",
      "type": "nominal",
      "scale": {
        "domain": ["Cluster 0", "Cluster 1", "Cluster 2", "Cluster 3"],
        "range": ["#1f77b4", "#ff7f0e", "#2ca02c", "#d62728"]
      },
      "legend": {
        "title": "Cluster",
        "orient": "top-left",
        "offset": 5,
        "titleAnchor": "middle",
        "titleAlign": "center",
        "fillColor": "rgba(255,255,255,0.8)",
        "strokeColor": "#d0d0d0",
        "cornerRadius": 3,
        "padding": 7,
        "rowPadding": 7,
        "labelOffset": 16,
        "symbolSize": 42,
        "symbolStrokeWidth": 0,
        "symbolOffset": 8,
        "labelFontSize": 12,
        "titleFontSize": 12,
        "titleFontWeight": "normal",
        "titlePadding": 6,
        "labelColor": "black",
        "titleColor": "black"
      }
    }
  },
  "config": {
    "font": "DejaVu Sans",
    "background": "white",
    "view": {"stroke": "black", "strokeWidth": 1},
    "axis": {
      "grid": true,
      "gridColor": "#b0b0b0",
      "gridWidth": 1,
      "domain": false,
      "tickColor": "black",
      "tickSize": 4,
      "labelFontSize": 12,
      "labelColor": "black",
      "labelPadding": 3,
      "titleFontSize": 12,
      "titleFontWeight": "normal",
      "titleColor": "black"
    }
  }
}
